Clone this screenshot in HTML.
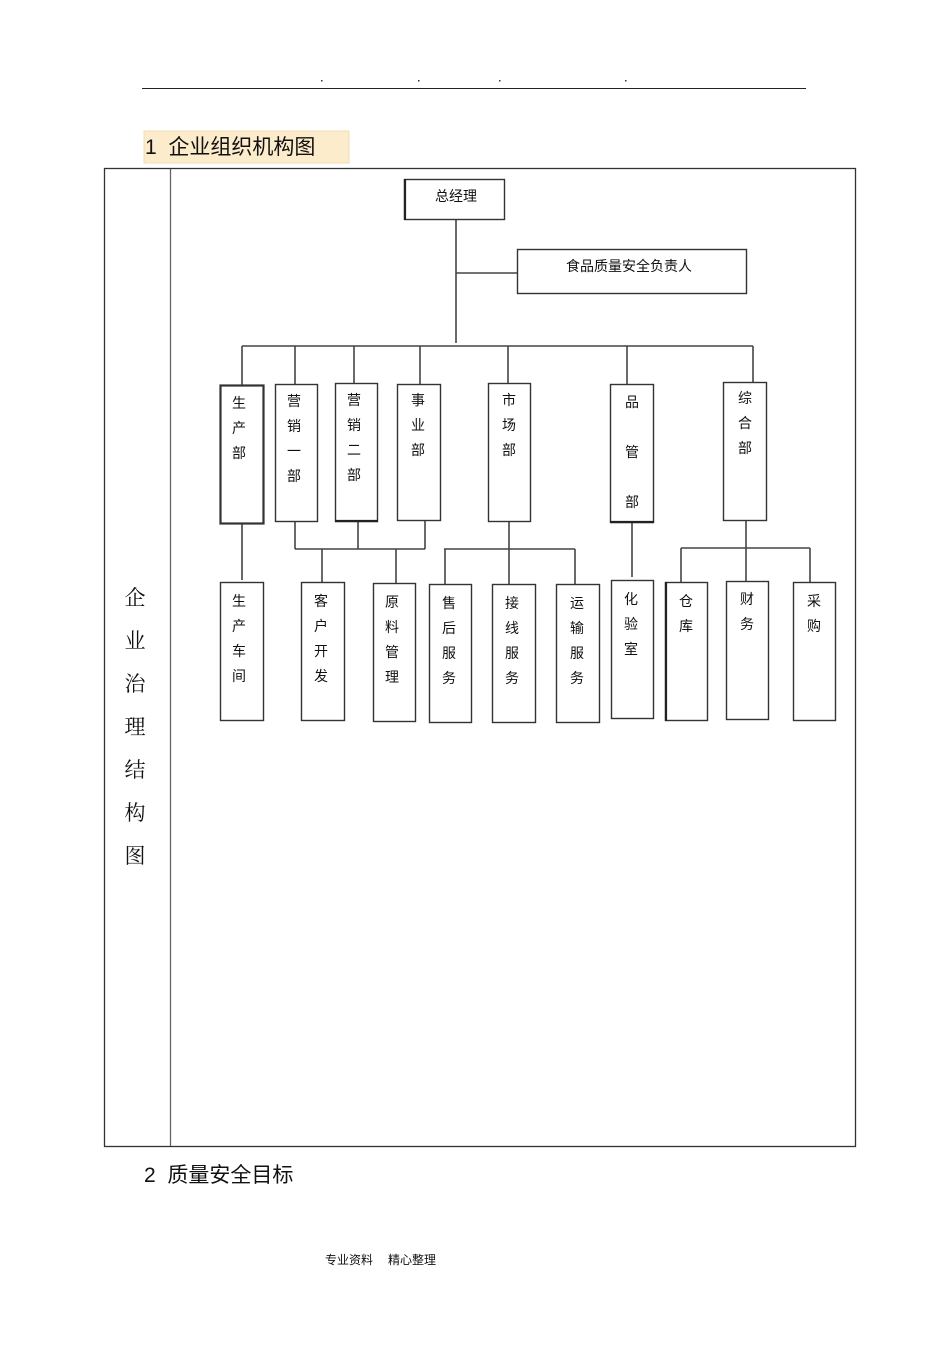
<!DOCTYPE html>
<html><head><meta charset="utf-8"><style>
html,body{margin:0;padding:0;background:#fff;}
svg{display:block;}
text{font-family:"Liberation Sans","Noto Sans CJK SC",sans-serif;fill:#111;}
.s{font-family:"Liberation Serif","Noto Serif CJK SC",serif;}
</style></head><body>
<svg width="950" height="1345" viewBox="0 0 950 1345" xmlns="http://www.w3.org/2000/svg">
<line x1="142" y1="88.5" x2="806" y2="88.5" stroke="#222" stroke-width="1"/>
<g fill="#333"><rect x="321" y="80" width="1.5" height="1.5"/><rect x="418" y="80" width="1.5" height="1.5"/><rect x="499" y="80" width="1.5" height="1.5"/><rect x="625" y="80" width="1.5" height="1.5"/></g>
<rect x="144" y="131" width="205" height="32" fill="#fdeccb" stroke="#f0dcb5" stroke-width="1"/>
<text x="145" y="154" font-size="21">1&#160;&#160;企业组织机构图</text>
<rect x="104.5" y="168.5" width="751" height="978" fill="none" stroke="#333" stroke-width="1.3"/>
<line x1="170.5" y1="169" x2="170.5" y2="1146" stroke="#666" stroke-width="1.3"/>
<g class="s" font-size="21" text-anchor="middle">
<text class="s" x="135" y="605">企</text><text class="s" x="135" y="648">业</text><text class="s" x="135" y="691">治</text><text class="s" x="135" y="734">理</text><text class="s" x="135" y="777">结</text><text class="s" x="135" y="820">构</text><text class="s" x="135" y="863">图</text>
</g>
<g stroke="#444" stroke-width="1.6" fill="none">
<line x1="456" y1="219" x2="456" y2="343"/>
<line x1="456" y1="273" x2="517" y2="273"/>
<line x1="242" y1="346" x2="753" y2="346"/>
<line x1="242" y1="346" x2="242" y2="385"/>
<line x1="295" y1="346" x2="295" y2="384"/>
<line x1="354" y1="346" x2="354" y2="383"/>
<line x1="420" y1="346" x2="420" y2="384"/>
<line x1="508" y1="346" x2="508" y2="383"/>
<line x1="627" y1="346" x2="627" y2="384"/>
<line x1="753" y1="346" x2="753" y2="382"/>
<line x1="242" y1="523" x2="242" y2="580"/>
<line x1="295" y1="521" x2="295" y2="549"/>
<line x1="358" y1="521" x2="358" y2="549"/>
<line x1="425" y1="520" x2="425" y2="549"/>
<line x1="295" y1="549" x2="425" y2="549"/>
<line x1="322" y1="549" x2="322" y2="582"/>
<line x1="396" y1="549" x2="396" y2="583"/>
<line x1="509" y1="521" x2="509" y2="584"/>
<line x1="444" y1="549" x2="575" y2="549"/>
<line x1="445" y1="549" x2="445" y2="584"/>
<line x1="575" y1="549" x2="575" y2="584"/>
<line x1="632" y1="522" x2="632" y2="577"/>
<line x1="746" y1="520" x2="746" y2="581"/>
<line x1="681" y1="548" x2="810" y2="548"/>
<line x1="681" y1="548" x2="681" y2="582"/>
<line x1="810" y1="548" x2="810" y2="582"/>
</g>
<g fill="#fff" stroke="#333" stroke-width="1.4">
<rect x="404.5" y="179.5" width="100" height="40"/>
<rect x="517.5" y="249.5" width="229" height="44"/>
<rect x="220.5" y="385.5" width="43" height="138" stroke-width="2.2"/>
<rect x="275.5" y="384.5" width="42" height="137"/>
<rect x="335.5" y="383.5" width="42" height="138"/>
<rect x="397.5" y="384.5" width="43" height="136"/>
<rect x="488.5" y="383.5" width="42" height="138"/>
<rect x="610.5" y="384.5" width="43" height="138"/>
<rect x="723.5" y="382.5" width="43" height="138"/>
<rect x="220.5" y="582.5" width="43" height="138"/>
<rect x="301.5" y="582.5" width="43" height="138"/>
<rect x="373.5" y="583.5" width="42" height="138"/>
<rect x="429.5" y="584.5" width="42" height="138"/>
<rect x="492.5" y="584.5" width="43" height="138"/>
<rect x="556.5" y="584.5" width="43" height="138"/>
<rect x="611.5" y="580.5" width="42" height="138"/>
<rect x="665.5" y="582.5" width="42" height="138"/>
<rect x="726.5" y="581.5" width="42" height="138"/>
<rect x="793.5" y="582.5" width="42" height="138"/>
</g>
<line x1="405" y1="179" x2="405" y2="220" stroke="#222" stroke-width="2.2"/>
<line x1="335" y1="521" x2="378" y2="521" stroke="#222" stroke-width="2.2"/>
<line x1="610" y1="522" x2="654" y2="522" stroke="#222" stroke-width="2.2"/>
<line x1="666" y1="582" x2="666" y2="721" stroke="#222" stroke-width="2.2"/>
<g font-size="14" text-anchor="middle">
<text x="456" y="201">总经理</text>
<text x="629" y="271">食品质量安全负责人</text>
<text x="239" y="408">生</text><text x="239" y="433">产</text><text x="239" y="458">部</text>
<text x="294" y="406">营</text><text x="294" y="431">销</text><text x="294" y="456">一</text><text x="294" y="481">部</text>
<text x="354" y="405">营</text><text x="354" y="430">销</text><text x="354" y="455">二</text><text x="354" y="480">部</text>
<text x="418" y="405">事</text><text x="418" y="430">业</text><text x="418" y="455">部</text>
<text x="509" y="405">市</text><text x="509" y="430">场</text><text x="509" y="455">部</text>
<text x="632" y="407">品</text><text x="632" y="457">管</text><text x="632" y="507">部</text>
<text x="745" y="403">综</text><text x="745" y="428">合</text><text x="745" y="453">部</text>
<text x="239" y="606">生</text><text x="239" y="631">产</text><text x="239" y="656">车</text><text x="239" y="681">间</text>
<text x="321" y="606">客</text><text x="321" y="631">户</text><text x="321" y="656">开</text><text x="321" y="681">发</text>
<text x="392" y="607">原</text><text x="392" y="632">料</text><text x="392" y="657">管</text><text x="392" y="682">理</text>
<text x="449" y="608">售</text><text x="449" y="633">后</text><text x="449" y="658">服</text><text x="449" y="683">务</text>
<text x="512" y="608">接</text><text x="512" y="633">线</text><text x="512" y="658">服</text><text x="512" y="683">务</text>
<text x="577" y="608">运</text><text x="577" y="633">输</text><text x="577" y="658">服</text><text x="577" y="683">务</text>
<text x="631" y="604">化</text><text x="631" y="629">验</text><text x="631" y="654">室</text>
<text x="686" y="606">仓</text><text x="686" y="631">库</text>
<text x="747" y="604">财</text><text x="747" y="629">务</text>
<text x="814" y="606">采</text><text x="814" y="631">购</text>
</g>
<text x="144" y="1182" font-size="21">2&#160;&#160;质量安全目标</text>
<text x="325" y="1264" font-size="12">专业资料</text>
<text x="388" y="1264" font-size="12">精心整理</text>
</svg>
</body></html>
